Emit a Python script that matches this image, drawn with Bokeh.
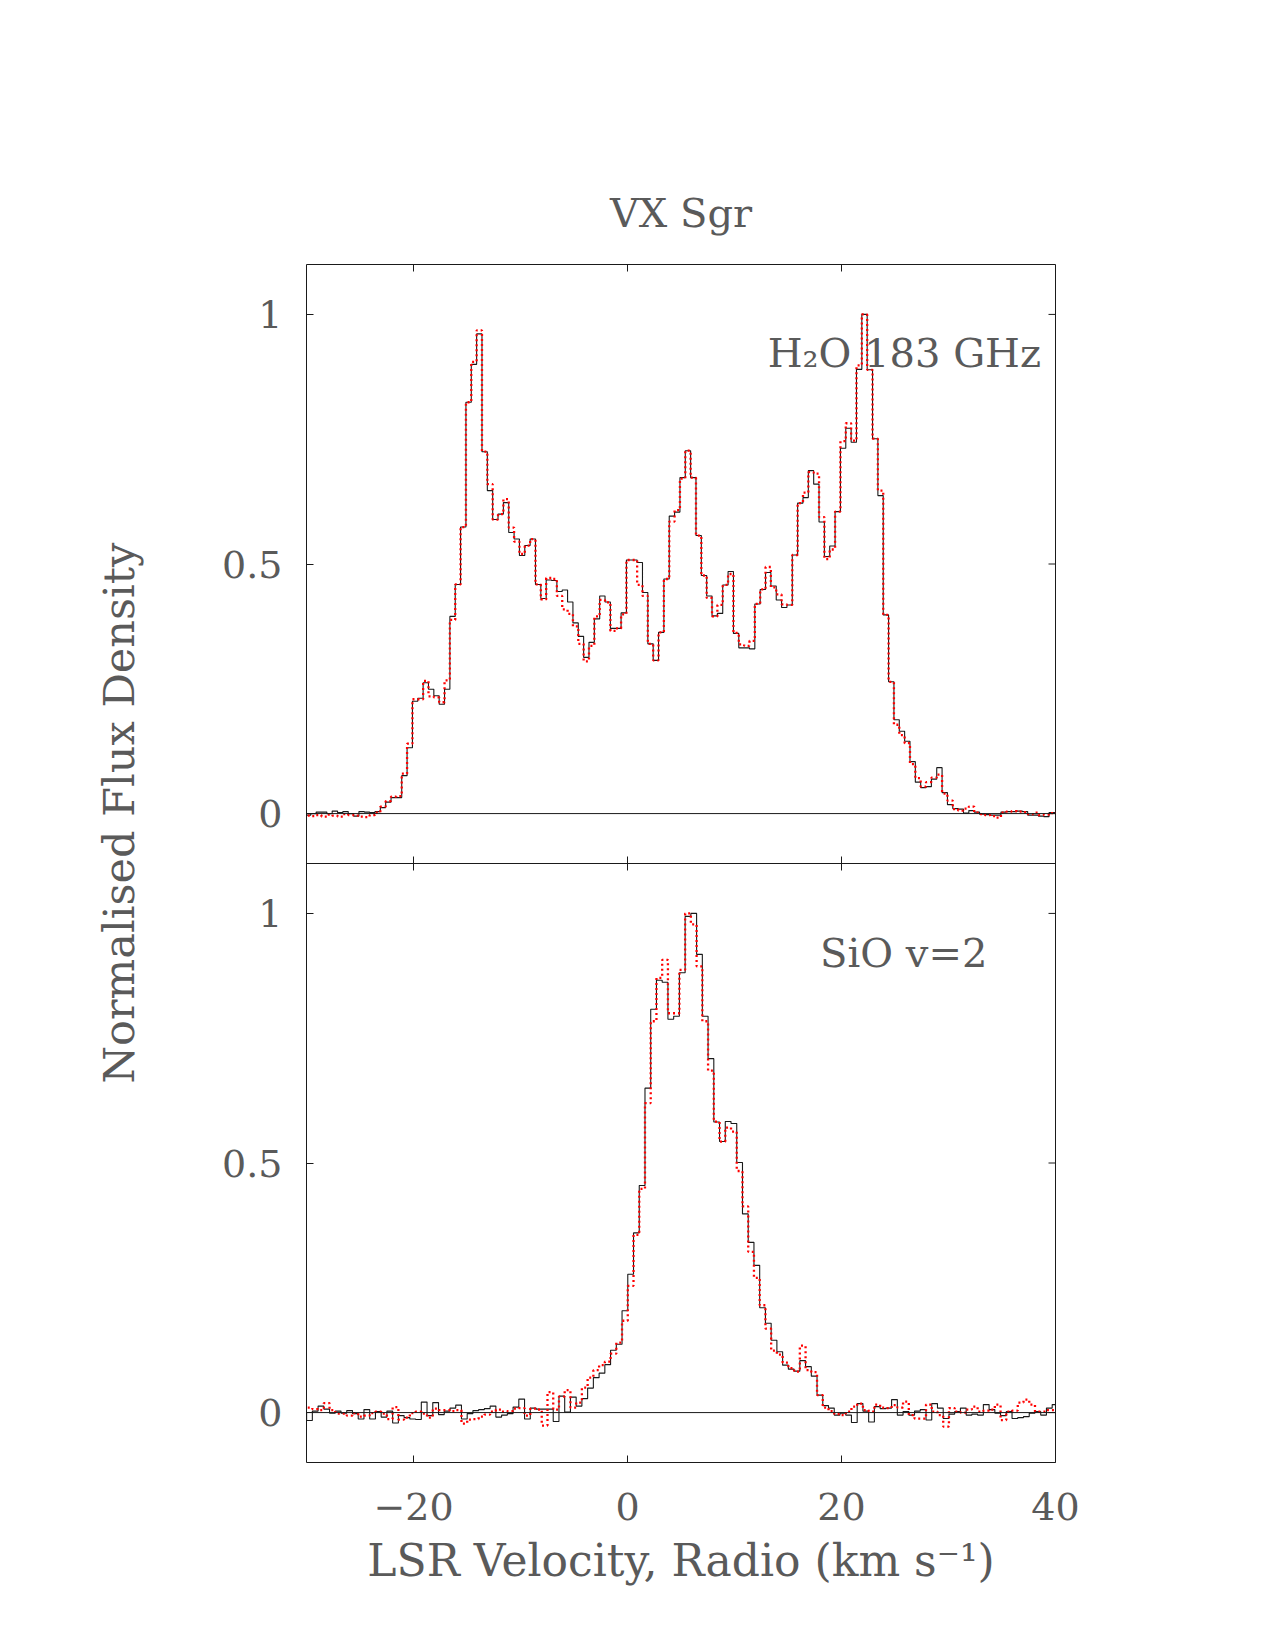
import numpy as np
from bokeh.plotting import figure
from bokeh.models import ColumnDataSource, Span, Label, FixedTicker, Title
from bokeh.transform import dodge
from bokeh.embed import file_html
from bokeh.resources import INLINE

# ---- spectra: normalised flux density per channel ----
# H2O 183 GHz channels (km/s)
h2o_v_start = -30.35
h2o_dv = 0.5
h2o_a = [
    -0.002,
    -0.003, 0.000, 0.003, 0.003, 0.000, 0.005, 0.002, 0.004, 0.000, -0.005,
    0.004, 0.003, 0.002, 0.004, 0.012, 0.023, 0.032, 0.032, 0.076, 0.132,
    0.225, 0.231, 0.262, 0.249, 0.236, 0.219, 0.249, 0.395, 0.459, 0.574,
    0.824, 0.900, 0.961, 0.725, 0.647, 0.589, 0.600, 0.623, 0.563, 0.550,
    0.517, 0.537, 0.550, 0.459, 0.431, 0.468, 0.467, 0.445, 0.448, 0.424,
    0.382, 0.355, 0.313, 0.343, 0.390, 0.436, 0.424, 0.371, 0.371, 0.402,
    0.508, 0.508, 0.503, 0.443, 0.340, 0.307, 0.363, 0.470, 0.596, 0.604,
    0.673, 0.727, 0.673, 0.557, 0.477, 0.436, 0.396, 0.401, 0.458, 0.485,
    0.361, 0.332, 0.332, 0.330, 0.420, 0.449, 0.483, 0.456, 0.428, 0.413,
    0.418, 0.518, 0.622, 0.633, 0.687, 0.660, 0.584, 0.515, 0.536, 0.605,
    0.732, 0.772, 0.744, 0.890, 1.000, 0.889, 0.751, 0.637, 0.398, 0.264,
    0.188, 0.165, 0.145, 0.104, 0.063, 0.052, 0.054, 0.069, 0.092, 0.042,
    0.018, 0.010, 0.009, 0.001, 0.006, 0.003, -0.001, -0.002, -0.003, -0.003,
    0.003, 0.004, 0.004, 0.005, 0.004, -0.003, -0.003, -0.005, -0.006, 0.002,
    0.002,
]
h2o_b = [
    -0.004,
    -0.004, -0.005, -0.003, -0.006, -0.002, -0.004, -0.006, -0.001, -0.003, -0.004,
    -0.006, -0.007, -0.003, 0.002, 0.014, 0.025, 0.034, 0.035, 0.080, 0.140,
    0.229, 0.229, 0.266, 0.235, 0.233, 0.223, 0.267, 0.388, 0.459, 0.574,
    0.824, 0.905, 0.968, 0.725, 0.660, 0.589, 0.600, 0.630, 0.573, 0.545,
    0.520, 0.537, 0.550, 0.459, 0.429, 0.472, 0.470, 0.436, 0.409, 0.400,
    0.375, 0.340, 0.305, 0.336, 0.395, 0.428, 0.423, 0.366, 0.371, 0.399,
    0.508, 0.508, 0.458, 0.436, 0.340, 0.307, 0.363, 0.470, 0.585, 0.608,
    0.671, 0.727, 0.673, 0.557, 0.477, 0.432, 0.395, 0.418, 0.458, 0.480,
    0.362, 0.339, 0.336, 0.346, 0.420, 0.449, 0.494, 0.453, 0.439, 0.419,
    0.418, 0.518, 0.622, 0.643, 0.684, 0.681, 0.594, 0.510, 0.529, 0.605,
    0.746, 0.782, 0.747, 0.898, 1.000, 0.889, 0.751, 0.647, 0.398, 0.264,
    0.178, 0.157, 0.141, 0.099, 0.071, 0.054, 0.063, 0.072, 0.078, 0.040,
    0.026, 0.009, 0.006, 0.010, 0.014, 0.002, -0.001, -0.003, -0.005, -0.008,
    0.002, 0.004, 0.005, 0.004, 0.003, -0.001, 0.002, -0.003, -0.002, 0.001,
    0.002,
]

# SiO v=2 channels (km/s)
sio_v_start = -30.258
sio_dv = 0.536
sio_a = [
    0.000, -0.016, 0.003, 0.013, 0.007, -0.001, 0.003, -0.001, 0.004, -0.002,
    -0.013, 0.006, -0.013, 0.002, -0.009, 0.003, -0.021, -0.006, -0.010, -0.013,
    -0.014, 0.021, -0.006, 0.020, -0.004, 0.003, 0.009, 0.015, -0.013, -0.002,
    0.004, 0.006, 0.008, 0.013, -0.009, -0.005, -0.002, 0.011, 0.027, -0.013,
    0.009, 0.007, 0.007, 0.007, -0.018, 0.033, 0.001, 0.031, 0.013, 0.028,
    0.049, 0.070, 0.079, 0.096, 0.125, 0.137, 0.204, 0.277, 0.360, 0.455,
    0.650, 0.808, 0.866, 0.862, 0.788, 0.794, 0.881, 0.994, 1.000, 0.918,
    0.794, 0.709, 0.582, 0.543, 0.583, 0.579, 0.501, 0.398, 0.341, 0.295,
    0.210, 0.179, 0.145, 0.122, 0.095, 0.087, 0.083, 0.104, 0.092, 0.073,
    0.035, 0.014, 0.009, -0.005, -0.001, -0.005, -0.020, 0.018, 0.003, -0.019,
    0.012, 0.008, 0.009, 0.026, -0.005, 0.002, -0.005, 0.003, 0.006, -0.015,
    0.018, 0.009, -0.012, -0.003, 0.002, 0.009, -0.005, -0.003, -0.005, 0.016,
    0.006, -0.001, -0.006, 0.002, -0.012, -0.010, -0.008, -0.001, 0.002, -0.005,
    0.009, 0.016, 0.010,
]
sio_b = [
    0.008, 0.010, 0.007, 0.005, 0.019, 0.005, -0.002, -0.002, -0.006, -0.001,
    -0.008, -0.006, -0.001, 0.002, -0.002, -0.013, 0.011, -0.014, -0.010, -0.001,
    0.002, -0.002, -0.010, 0.008, 0.005, 0.005, 0.003, 0.005, -0.022, -0.014,
    -0.013, -0.008, -0.004, 0.002, 0.006, 0.002, 0.003, 0.008, 0.009, -0.006,
    0.008, 0.006, -0.026, 0.041, 0.006, 0.032, 0.045, 0.010, 0.020, 0.050,
    0.070, 0.085, 0.095, 0.102, 0.118, 0.140, 0.184, 0.254, 0.356, 0.448,
    0.620, 0.784, 0.871, 0.907, 0.800, 0.800, 0.887, 1.000, 0.978, 0.894,
    0.784, 0.685, 0.583, 0.543, 0.571, 0.563, 0.484, 0.413, 0.322, 0.270,
    0.215, 0.168, 0.124, 0.116, 0.100, 0.089, 0.082, 0.134, 0.085, 0.081,
    0.035, 0.010, 0.003, -0.003, -0.005, 0.002, 0.012, 0.018, 0.005, 0.002,
    0.016, 0.010, 0.009, 0.015, 0.010, 0.022, -0.005, -0.012, -0.012, 0.016,
    0.002, -0.005, -0.028, 0.009, 0.002, 0.000, 0.006, 0.012, 0.002, 0.004,
    0.006, 0.016, -0.015, 0.002, 0.004, 0.020, 0.026, 0.016, 0.002, 0.002,
    0.005, 0.005, 0.005,
]

# axis ticks
x_ticks = [-20, 0, 20, 40]
x_tick_labels = ["\u221220", "0", "20", "40"]
y_ticks = [0, 0.5, 1]
y_tick_labels = ["0", "0.5", "1"]

# ---- layout: two stacked panels share one frame ----
X_RANGE = (-30, 40)
PANEL_LO, PANEL_HI = -0.1, 1.1
SHIFT = PANEL_HI - PANEL_LO          # upper panel sits one panel-height higher
Y_TOP = PANEL_LO + 2 * SHIFT
FRAME_L, FRAME_R, FRAME_T, FRAME_B = 306, 1055, 264, 1462
W, H = 1275, 1650
PX_PER_Y = (FRAME_B - FRAME_T) / (2 * SHIFT)
PX_PER_X = (FRAME_R - FRAME_L) / (X_RANGE[1] - X_RANGE[0])
TICK_PX = 7

FONT = "DejaVu Serif"
TXT = "#5a5a5a"
INK = "#1a1a1a"

h2o_v = h2o_v_start + h2o_dv * np.arange(len(h2o_a))
sio_v = sio_v_start + sio_dv * np.arange(len(sio_a))
h2o_src = ColumnDataSource(dict(v=h2o_v, a=h2o_a, b=h2o_b))
sio_src = ColumnDataSource(dict(v=sio_v, a=sio_a, b=sio_b))

p = figure(
    width=W, height=H,
    x_range=X_RANGE, y_range=(PANEL_LO, Y_TOP),
    output_backend="svg", toolbar_location=None,
    min_border_left=FRAME_L, min_border_right=W - FRAME_R,
    min_border_top=FRAME_T, min_border_bottom=H - FRAME_B,
)
p.xgrid.visible = False
p.ygrid.visible = False
p.outline_line_color = INK
p.outline_line_width = 1
p.background_fill_color = "white"
p.border_fill_color = "white"

# labelled axes (left, below) with inward ticks
y_all = list(y_ticks) + [t + SHIFT for t in y_ticks]
y_overrides = {}
for t, lab in zip(y_ticks, y_tick_labels):
    y_overrides[t] = lab
    y_overrides[t + SHIFT] = lab

p.xaxis.ticker = FixedTicker(ticks=x_ticks)
p.xaxis.major_label_overrides = dict(zip(x_ticks, x_tick_labels))
p.yaxis.ticker = FixedTicker(ticks=y_all)
p.yaxis.major_label_overrides = y_overrides
for ax in p.axis:
    ax.axis_line_color = None
    ax.major_tick_in = TICK_PX
    ax.major_tick_out = 0
    ax.major_tick_line_color = INK
    ax.minor_tick_line_color = None
    ax.major_label_text_font = FONT
    ax.major_label_text_font_size = "38px"
    ax.major_label_text_color = TXT
p.yaxis.major_label_standoff = 24
p.xaxis.major_label_standoff = 30

# inward ticks on the top and right edges and on the shared panel boundary
n_x = len(x_ticks)
tick_y = TICK_PX / PX_PER_Y
tick_x = TICK_PX / PX_PER_X
p.segment(x0=x_ticks, x1=x_ticks, y0=[Y_TOP - tick_y] * n_x, y1=[Y_TOP] * n_x,
          line_color=INK, line_width=1)
p.segment(x0=[X_RANGE[1] - tick_x] * len(y_all), x1=[X_RANGE[1]] * len(y_all),
          y0=y_all, y1=y_all, line_color=INK, line_width=1)
p.segment(x0=x_ticks[:-1], x1=x_ticks[:-1],
          y0=[PANEL_HI - tick_y] * (n_x - 1), y1=[PANEL_HI + tick_y] * (n_x - 1),
          line_color=INK, line_width=1)
p.add_layout(Span(location=PANEL_HI, dimension="width", line_color=INK, line_width=1))

# zero baselines
p.add_layout(Span(location=0, dimension="width", line_color=INK, line_width=1))
p.add_layout(Span(location=SHIFT, dimension="width", line_color=INK, line_width=1))

# spectra
p.step(x="v", y=dodge("a", SHIFT), source=h2o_src, mode="center",
       line_color=INK, line_width=1.1)
p.step(x="v", y=dodge("b", SHIFT), source=h2o_src, mode="center",
       line_color="#ff0000", line_width=2.3, line_dash="2 3")
p.step(x="v", y="a", source=sio_src, mode="center",
       line_color=INK, line_width=1.1)
p.step(x="v", y="b", source=sio_src, mode="center",
       line_color="#ff0000", line_width=2.3, line_dash="2 3")

# title and axis titles
p.title.text = "VX Sgr"
p.title.align = "center"
p.title.text_font = FONT
p.title.text_font_size = "40px"
p.title.text_font_style = "normal"
p.title.text_color = TXT
p.title.standoff = 58

p.add_layout(Title(text="LSR Velocity, Radio (km s\u207b\u00b9)", align="center",
                   text_font=FONT, text_font_size="44px", text_font_style="normal",
                   text_color=TXT, standoff=20), "below")
p.add_layout(Title(text="Normalised Flux Density", align="left", offset=379,
                   text_font=FONT, text_font_size="43px", text_font_style="normal",
                   text_color=TXT, standoff=152), "left")

# panel labels
p.add_layout(Label(x=13.1, y=SHIFT + 0.922, text="H\u2082O 183 GHz", text_align="left",
                   text_baseline="alphabetic", text_font=FONT,
                   text_font_size="40px", text_color=TXT))
p.add_layout(Label(x=18.0, y=0.92, text="SiO v=2", text_align="left",
                   text_baseline="alphabetic", text_font=FONT,
                   text_font_size="40px", text_color=TXT))

open("out.html", "w").write(file_html(p, INLINE))
